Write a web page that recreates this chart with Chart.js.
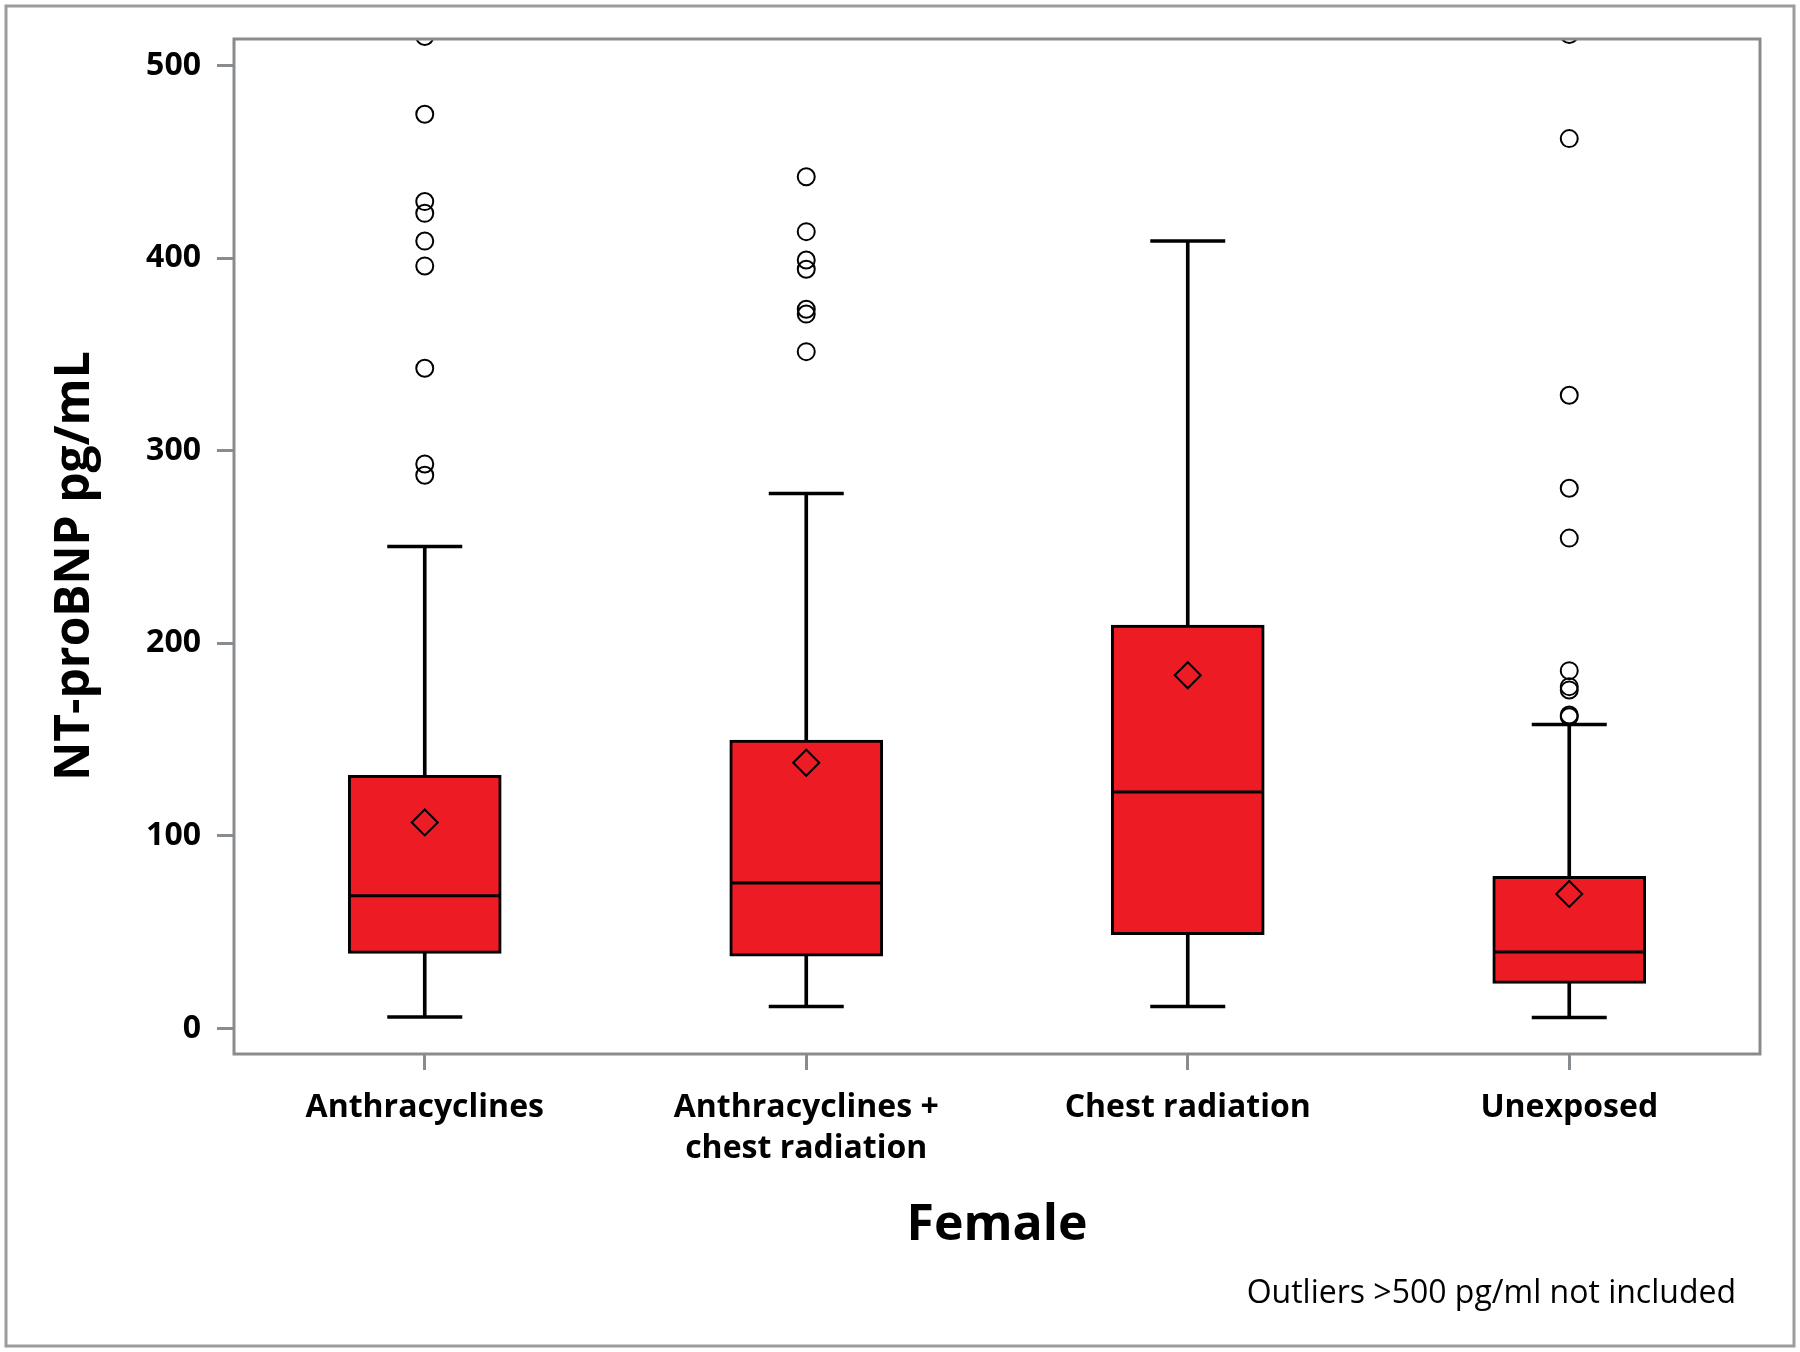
<!DOCTYPE html>
<html>
<head>
<meta charset="utf-8">
<title>NT-proBNP by exposure, Female</title>
<script src="https://cdn.jsdelivr.net/npm/chart.js@4.4.1/dist/chart.umd.min.js"></script>
<style>
  html, body { margin: 0; padding: 0; background: #fff; }
  canvas { display: block; }
</style>
</head>
<body>
<canvas id="boxChart" width="1800" height="1352"></canvas>
<script>
// values
const categories = [['Anthracyclines'], ['Anthracyclines +', 'chest radiation'], ['Chest radiation'], ['Unexposed']];
const whiskerLow = [6, 11.5, 11.5, 5.8];
const q1 = [39, 37.6, 48.8, 23.5];
const median = [69, 75.6, 122.8, 39.8];
const q3 = [131.5, 149.8, 209.5, 79];
const whiskerHigh = [250.3, 277.7, 408.8, 157.8];
const means = [107, 138, 183.4, 69.9];
const outliers = [
  [515, 474.6, 429.3, 423.2, 408.8, 395.9, 342.8, 293.1, 287.2],
  [442.2, 413.7, 399, 394.2, 373.4, 370.9, 351.4],
  [],
  [516, 462, 328.8, 280.5, 254.6, 185.8, 177.5, 175.8, 162.8, 161.9]
];
const yTicks = [0, 100, 200, 300, 400, 500];
const yMin = -13.2;
const yMax = 513.7;

const FONT = "'Open Sans', 'Noto Sans', sans-serif";
const GRAY = '#898c8e';
const RED = '#ed1c24';

// a point dataset drawn at each category from an array indexed by category
function markSet(values, style, radius, width, order, extra) {
  return Object.assign({
    type: 'line',
    data: values,
    showLine: false,
    pointStyle: style,
    pointRadius: radius,
    pointBorderWidth: width,
    pointBorderColor: '#000',
    pointBackgroundColor: 'rgba(0,0,0,0)',
    order: order
  }, extra || {});
}

// outliers: k-th outlier of each category in dataset k
const maxOut = Math.max(...outliers.map(l => l.length));
const outlierSets = [];
for (let k = 0; k < maxOut; k++) {
  const vals = outliers.map(list => (k < list.length ? list[k] : null));
  outlierSets.push(markSet(vals, 'circle', 8.5, 2, 1, { clip: 0 }));
}

// frame around plot, outer border, y title and footnote
const framePlugin = {
  id: 'frame',
  afterDraw(chart) {
    const { ctx, chartArea: a } = chart;
    ctx.save();
    ctx.strokeStyle = GRAY;
    ctx.lineWidth = 3;
    ctx.strokeRect(a.left, a.top, a.right - a.left, a.bottom - a.top);
    ctx.strokeStyle = '#9a9c9e';
    ctx.strokeRect(6, 6, chart.width - 12, chart.height - 12);
    ctx.fillStyle = '#000';
    ctx.textBaseline = 'middle';
    ctx.font = '32px ' + FONT;
    ctx.textAlign = 'right';
    ctx.fillText('Outliers >500 pg/ml not included', 1736, 1294);
    ctx.translate(75, 566);
    ctx.rotate(-Math.PI / 2);
    ctx.textAlign = 'center';
    ctx.font = 'bold 48px ' + FONT;
    ctx.fillText('NT-proBNP pg/mL', 0, 0);
    ctx.restore();
  }
};

new Chart(document.getElementById('boxChart'), {
  type: 'bar',
  data: {
    labels: categories,
    datasets: [
      {
        type: 'bar',
        data: whiskerLow.map((v, i) => [v, whiskerHigh[i]]),
        backgroundColor: '#000',
        borderWidth: 0,
        barThickness: 3,
        grouped: false,
        order: 5
      },
      {
        type: 'bar',
        data: q1.map((v, i) => [v, q3[i]]),
        backgroundColor: RED,
        borderColor: '#000',
        borderWidth: 3,
        borderSkipped: false,
        barThickness: 153,
        grouped: false,
        order: 4
      },
      markSet(whiskerLow, 'line', 37.5, 3.5, 3),
      markSet(whiskerHigh, 'line', 37.5, 3.5, 3),
      markSet(median, 'line', 75, 3, 3),
      markSet(means, 'rectRot', 13, 2, 2),
      ...outlierSets
    ]
  },
  options: {
    responsive: false,
    animation: false,
    events: [],
    layout: { autoPadding: false, padding: { top: 39, right: 40, left: 0, bottom: 0 } },
    plugins: {
      legend: { display: false },
      tooltip: { enabled: false }
    },
    scales: {
      x: {
        type: 'category',
        offset: true,
        afterFit: scale => { scale.height = 298; },
        grid: { offset: false, drawOnChartArea: false, drawTicks: true, tickLength: 16, color: GRAY, lineWidth: 3 },
        border: { display: false },
        ticks: {
          color: '#000',
          padding: 17,
          maxRotation: 0,
          autoSkip: false,
          font: { family: FONT, size: 32, weight: 'bold', lineHeight: 1.28 }
        },
        title: {
          display: true,
          text: 'Female',
          color: '#000',
          padding: { top: 0, bottom: 96 },
          font: { family: FONT, size: 50, weight: 'bold', lineHeight: 1.2 }
        }
      },
      y: {
        type: 'linear',
        min: yMin,
        max: yMax,
        afterFit: scale => { scale.width = 234; },
        afterBuildTicks: scale => { scale.ticks = yTicks.map(v => ({ value: v })); },
        grid: { drawOnChartArea: false, drawTicks: true, tickLength: 17, color: GRAY, lineWidth: 3 },
        border: { display: false },
        ticks: {
          color: '#000',
          padding: 16,
          font: { family: FONT, size: 32, weight: 'bold' }
        }
      }
    }
  },
  plugins: [framePlugin]
});
</script>
</body>
</html>
